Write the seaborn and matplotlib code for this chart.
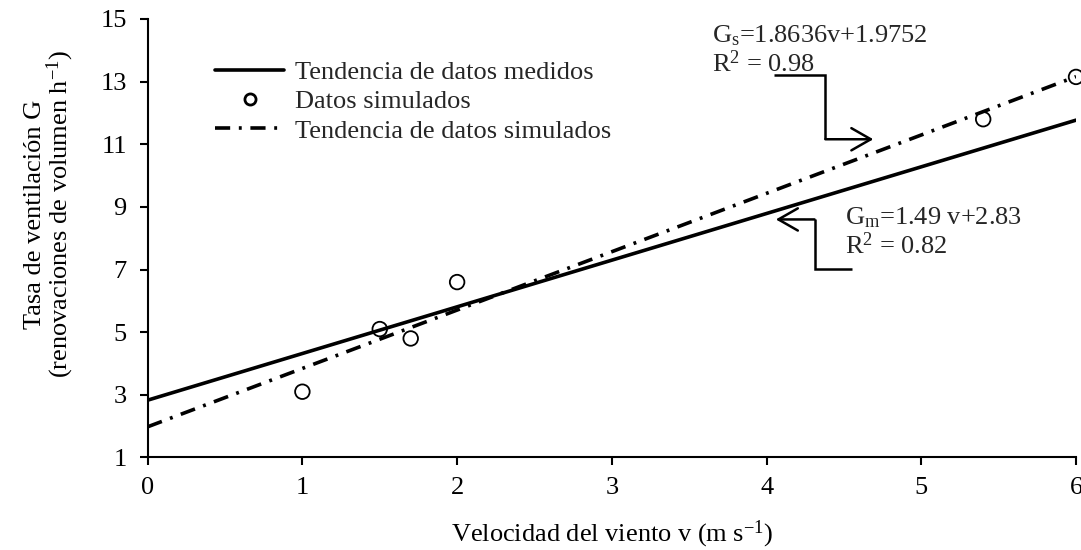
import matplotlib
matplotlib.use("Agg")
import matplotlib.pyplot as plt
import seaborn as sns
import pandas as pd
from matplotlib.lines import Line2D

# ---- data ----
sim_v = [1.0, 1.5, 1.7, 2.0, 5.4, 6.0]
sim_g = [3.1, 5.1, 4.8, 6.6, 11.8, 13.15]

trend_v = [0.0, 6.0]
trend_meas_g = [2.83, 11.77]
trend_sim_g = [1.98, 13.16]

x_ticks = [0, 1, 2, 3, 4, 5, 6]
y_ticks = [1, 3, 5, 7, 9, 11, 13, 15]

lbl_meas = "Tendencia de datos medidos"
lbl_sim = "Datos simulados"
lbl_simtrend = "Tendencia de datos simulados"

eq_sim = [r"G$\mathregular{_s}$=1.8636v+1.9752", r"R$\mathregular{^2}$ = 0.98"]
eq_meas = [r"G$\mathregular{_m}$=1.49 v+2.83", r"R$\mathregular{^2}$ = 0.82"]

# arrow paths (data coordinates)
arrow_sim_x = [4.05, 4.38, 4.38, 4.69]
arrow_sim_y = [13.20, 13.20, 11.16, 11.16]
arrow_meas_x = [4.55, 4.31, 4.31, 4.06]
arrow_meas_y = [7.01, 7.01, 8.60, 8.60]

# ---- style ----
sns.set_theme(style="ticks")
plt.rcParams["font.family"] = ["Liberation Serif", "DejaVu Serif"]
plt.rcParams["mathtext.fontset"] = "custom"
plt.rcParams["mathtext.rm"] = "Liberation Serif"
plt.rcParams["mathtext.it"] = "Liberation Serif:italic"
FS = 19

fig = plt.figure(figsize=(10.81, 5.5), dpi=100)
ax = fig.add_axes([0.1366, 0.1682, 0.9954 - 0.1366, 0.9655 - 0.1682])

df_tr = pd.DataFrame({"v": trend_v, "gm": trend_meas_g, "gs": trend_sim_g})
df_sim = pd.DataFrame({"v": sim_v, "g": sim_g})

sns.lineplot(data=df_tr, x="v", y="gm", ax=ax, color="black", linewidth=2.6)
sns.lineplot(data=df_tr, x="v", y="gs", ax=ax, color="black", linewidth=2.6)
dash_pat = (4.2, 2.4, 0.8, 2.4)
ax.lines[1].set_dashes(dash_pat)
ax.lines[1].set_dash_capstyle("butt")

sns.scatterplot(data=df_sim, x="v", y="g", ax=ax, marker="o", s=110,
                facecolor="none", edgecolor="black", linewidth=1.3,
                zorder=5, clip_on=False)

ax.set_xlim(0, 6)
ax.set_ylim(1, 15)
ax.set_xticks(x_ticks)
ax.set_yticks(y_ticks)
ax.tick_params(axis="both", direction="out", length=6, width=1.5,
               labelsize=FS, color="black", labelcolor="black")
ax.tick_params(axis="x", pad=8)
ax.tick_params(axis="y", pad=9)
for side in ["top", "right"]:
    ax.spines[side].set_visible(False)
for side in ["left", "bottom"]:
    ax.spines[side].set_linewidth(1.5)
    ax.spines[side].set_color("black")

ax.set_xlabel(r"Velocidad del viento v (m s$\mathregular{^{-1}}$)", fontsize=FS,
              labelpad=14, color="black")
ax.set_ylabel("Tasa de ventilación G\n" + r"(renovaciones de volumen h$\mathregular{^{-1}}$)",
              fontsize=FS, color="black", linespacing=0.95)
ax.yaxis.label.set_va("center")
ax.yaxis.label.set_ha("center")
ax.yaxis.set_label_coords(-0.105, 0.555)

# equations
ax.text(3.65, 14.26, eq_sim[0], fontsize=FS, va="baseline", ha="left")
ax.text(3.65, 13.30, eq_sim[1], fontsize=FS, va="baseline", ha="left")
ax.text(4.51, 8.44, eq_meas[0], fontsize=FS, va="baseline", ha="left")
ax.text(4.51, 7.49, eq_meas[1], fontsize=FS, va="baseline", ha="left")

# arrows
for xs, ys in [(arrow_sim_x, arrow_sim_y), (arrow_meas_x, arrow_meas_y)]:
    ax.plot(xs[:3], ys[:3], color="black", linewidth=1.8,
            solid_joinstyle="miter", solid_capstyle="butt")
    ax.annotate("", xy=(xs[3], ys[3]), xytext=(xs[2], ys[2]),
                arrowprops=dict(arrowstyle="->,head_length=1.4,head_width=0.8",
                                color="black", linewidth=1.8,
                                shrinkA=0, shrinkB=0, mutation_scale=10))

# legend
h1 = Line2D([], [], color="black", linewidth=2.6)
h2 = Line2D([], [], color="black", linestyle="none", marker="o",
            markersize=8, markerfacecolor="none", markeredgewidth=2.0)
h3 = Line2D([], [], color="black", linewidth=2.6)
h3.set_dashes(dash_pat)
leg = ax.legend([h1, h2, h3], [lbl_meas, lbl_sim, lbl_simtrend],
                loc="upper left", bbox_to_anchor=(0.073, 0.905),
                frameon=False, fontsize=FS, handlelength=2.6,
                handletextpad=0.4, labelspacing=0.22, borderpad=0,
                borderaxespad=0)

fig.savefig("out.png", dpi=100)
